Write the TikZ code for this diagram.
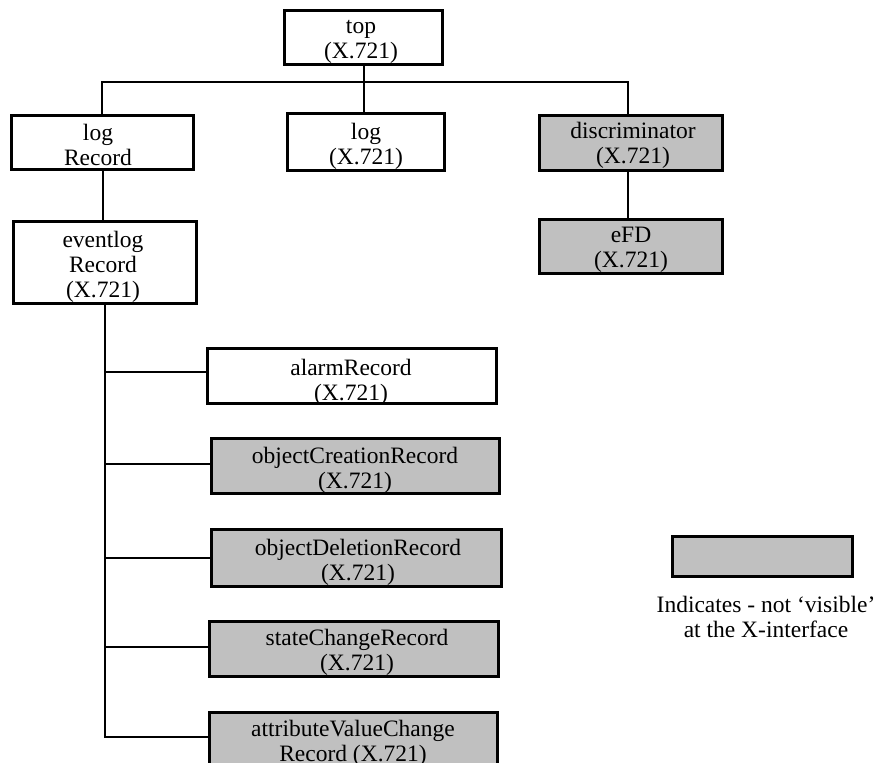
\documentclass[tikz,border=0pt]{standalone}
\usepackage{fontspec}
\setmainfont{Liberation Serif}
\newcommand{\ls}{\rule[-7pt]{0pt}{25pt}}
\begin{document}
\begin{tikzpicture}[x=1pt,y=-1pt,
  classbox/.style={draw=black, line width=3pt, fill=white, inner sep=0pt, rectangle},
  hidden/.style={classbox, fill=hiddengray},
  lbl/.style={inner sep=0pt, align=center, font=\fontsize{23.5}{25}\selectfont},
  link/.style={draw=black, line width=2.8pt}]
\definecolor{hiddengray}{HTML}{C0C0C0}
\clip (0,0) rectangle (879,763);
\fill[white] (0,0) rectangle (879,763);

% class boxes
\node[classbox, minimum width=158pt, minimum height=54pt] (top) at (363,37) {};
\node[classbox, minimum width=182pt, minimum height=54pt] (logrec) at (102,142) {};
\node[classbox, minimum width=157pt, minimum height=57pt] (log) at (365.5,141.5) {};
\node[hidden, minimum width=183pt, minimum height=55pt] (disc) at (630.5,142.5) {};
\node[hidden, minimum width=183pt, minimum height=54pt] (efd) at (630.5,246) {};
\node[classbox, minimum width=183pt, minimum height=82pt] (evlog) at (104.5,262) {};
\node[classbox, minimum width=289pt, minimum height=55pt] (alarm) at (351.5,375.5) {};
\node[hidden, minimum width=288pt, minimum height=55pt] (objc) at (355,465.5) {};
\node[hidden, minimum width=290pt, minimum height=57pt] (objd) at (356,557.5) {};
\node[hidden, minimum width=289pt, minimum height=55pt] (state) at (353.5,648.5) {};
\node[hidden, minimum width=288pt, minimum height=78pt] (attr) at (353,751) {};
\node[hidden, minimum width=180pt, minimum height=40pt] (legend) at (762,556) {};

% labels
\node[lbl] (top-t) at (361,40) {\ls top\\\ls(X.721)};
\node[lbl] (logrec-t) at (98,147) {\ls log\\\ls Record};
\node[lbl] (log-t) at (366,146) {\ls log\\\ls(X.721)};
\node[lbl] (disc-t) at (633,145) {\ls discriminator\\\ls(X.721)};
\node[lbl] (efd-t) at (631,249) {\ls eFD\\\ls(X.721)};
\node[lbl] (evlog-t) at (103,266.5) {\ls eventlog\\\ls Record\\\ls(X.721)};
\node[lbl] (alarm-t) at (351,382) {\ls alarmRecord\\\ls(X.721)};
\node[lbl] (objc-t) at (355,470) {\ls objectCreationRecord\\\ls(X.721)};
\node[lbl] (objd-t) at (358,562) {\ls objectDeletionRecord\\\ls(X.721)};
\node[lbl] (state-t) at (357,652) {\ls stateChangeRecord\\\ls(X.721)};
\node[lbl] (attr-t) at (353,743) {\ls attributeValueChange\\\ls Record (X.721)};
\node[lbl] (legend-t) at (766,619) {\ls Indicates - not ‘visible’\\\ls at the X-interface};

% inheritance connectors
\coordinate (bus) at (364,82);
\coordinate (trunkend) at (105,737);
\draw[link] (top.south -| bus) -- (bus |- log.north);
\draw[link] (logrec.north) |- (bus) -| (628,113.5);
\draw[link] (logrec.south -| 103,0) -- (103,221);
\draw[link] (628,170) -- (628,219);
\draw[link] (evlog.south -| trunkend) -- (trunkend) -- (trunkend -| attr.west);
\draw[link] (105,372) -- (alarm.west |- 105,372);
\draw[link] (105,464) -- (objc.west |- 105,464);
\draw[link] (105,558) -- (objd.west |- 105,558);
\draw[link] (105,647) -- (state.west |- 105,647);
\end{tikzpicture}
\end{document}
